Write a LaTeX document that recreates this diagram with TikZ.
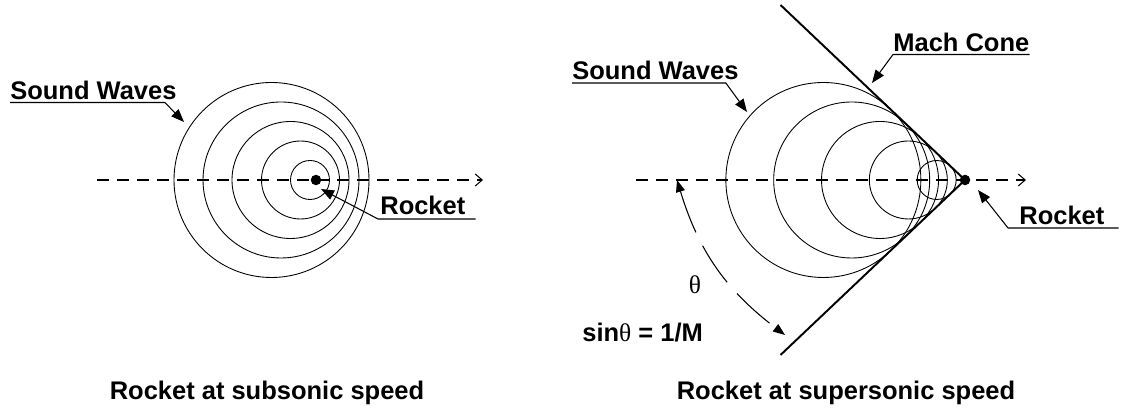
\documentclass[tikz,border=0pt]{standalone}
\usepackage{fontspec}
\setmainfont{Liberation Sans}
\newfontfamily\symfont{Liberation Serif}
\usetikzlibrary{arrows.meta}
\tikzset{
  wave/.style = {draw=black, line width=0.5pt},
  coneline/.style = {draw=black, line width=1.1pt},
  axisline/.style = {
    draw=black, line width=0.6pt, dash pattern=on 0.24cm off 0.16cm,
    -{Straight Barb[length=0.14cm, width=0.24cm]}
  },
  lbltext/.style = {
    font=\fontsize{14.5}{17}\selectfont\bfseries, inner sep=0pt,
    anchor=base west
  },
  captext/.style = {
    font=\fontsize{14.5}{17}\selectfont\bfseries, inner sep=0pt,
    anchor=base
  },
  leader/.style = {draw=black, line width=0.6pt, -{Triangle[length=0.26cm, width=0.2cm]}},
  anglearc/.style = {
    draw=black, line width=0.6pt, dash pattern=on 0.88cm off 0.3cm,
    {Triangle[length=0.24cm, width=0.18cm]}-{Triangle[length=0.24cm, width=0.18cm]}
  },
  rocket/.style = {circle, fill=black, inner sep=0pt, minimum size=0.21cm}
}
\begin{document}
\begin{tikzpicture}
  \useasboundingbox (0,0) rectangle (22.5,8.24);

  % subsonic
  \coordinate (axL0) at (1.94,4.64);
  \coordinate (axL1) at (9.66,4.64);
  \foreach \r/\cx in {1.95/5.43, 1.56/5.62, 1.17/5.81, 0.78/6.01, 0.39/6.20}
    \draw[wave] (\cx,4.64) circle (\r);
  \draw[axisline] (axL0) -- (axL1);
  \node[rocket] (rocketL) at (6.32,4.64) {};

  \node[lbltext] (swL)   at (0.2,6.24) {Sound Waves};
  \node[lbltext] (rockL) at (7.6,3.94) {Rocket};
  \coordinate (swLtip)   at (3.68,5.8);
  \coordinate (rockLtip) at (6.42,4.46);
  \draw[leader] ([yshift=-0.05cm]swL.base west) -- ([xshift=-0.24cm,yshift=-0.05cm]swL.base east) -- (swLtip);
  \draw[leader] ([xshift=0.2cm,yshift=-0.08cm]rockL.base east) -- ([xshift=-0.04cm,yshift=-0.08cm]rockL.base west) -- (rockLtip);

  \node[captext] (capL) at (5.34,0.24) {Rocket at subsonic speed};

  % supersonic
  \coordinate (axR0) at (12.72,4.64);
  \coordinate (axR1) at (20.52,4.64);
  \coordinate (apex) at (19.3,4.64);
  \coordinate (coneTop) at (15.61,8.14);
  \coordinate (coneBot) at (15.61,1.14);
  \foreach \r in {1.95,1.56,1.17,0.78,0.39}
    \draw[wave] ({19.3-\r/sin(43.5)},4.64) circle (\r);
  \draw[axisline] (axR0) -- (axR1);
  \draw[coneline] (coneTop) -- (apex) -- (coneBot);
  \node[rocket] (rocketR) at (apex) {};

  \node[lbltext] (swR)   at (11.44,6.64) {Sound Waves};
  \node[lbltext] (mach)  at (17.86,7.2) {Mach Cone};
  \node[lbltext] (rockR) at (20.38,3.74) {Rocket};
  \coordinate (swRtip)   at (14.94,6.0);
  \coordinate (machtip)  at (17.44,6.58);
  \coordinate (rockRtip) at (19.56,4.44);
  \draw[leader] ([yshift=-0.06cm]swR.base west) -- ([xshift=-0.26cm,yshift=-0.06cm]swR.base east) -- (swRtip);
  \draw[leader] ([yshift=-0.05cm]mach.base east) -- ([yshift=-0.05cm]mach.base west) -- (machtip);
  \draw[leader] ([xshift=0.28cm,yshift=-0.06cm]rockR.base east) -- ([xshift=-0.22cm,yshift=-0.06cm]rockR.base west) -- (rockRtip);

  \coordinate (thtop) at (13.54,4.64);
  \coordinate (thbot) at (15.7,1.54);
  \draw[anglearc] (thtop) to[bend right=18] (thbot);
  \node[font=\symfont\fontsize{14.5}{17}\selectfont] (theta) at (13.9,2.54) {θ};
  \node[lbltext] (sinrel) at (11.64,1.4) {sin{\symfont\mdseries θ} = 1/M};

  \node[captext] (capR) at (16.92,0.24) {Rocket at supersonic speed};
\end{tikzpicture}
\end{document}
